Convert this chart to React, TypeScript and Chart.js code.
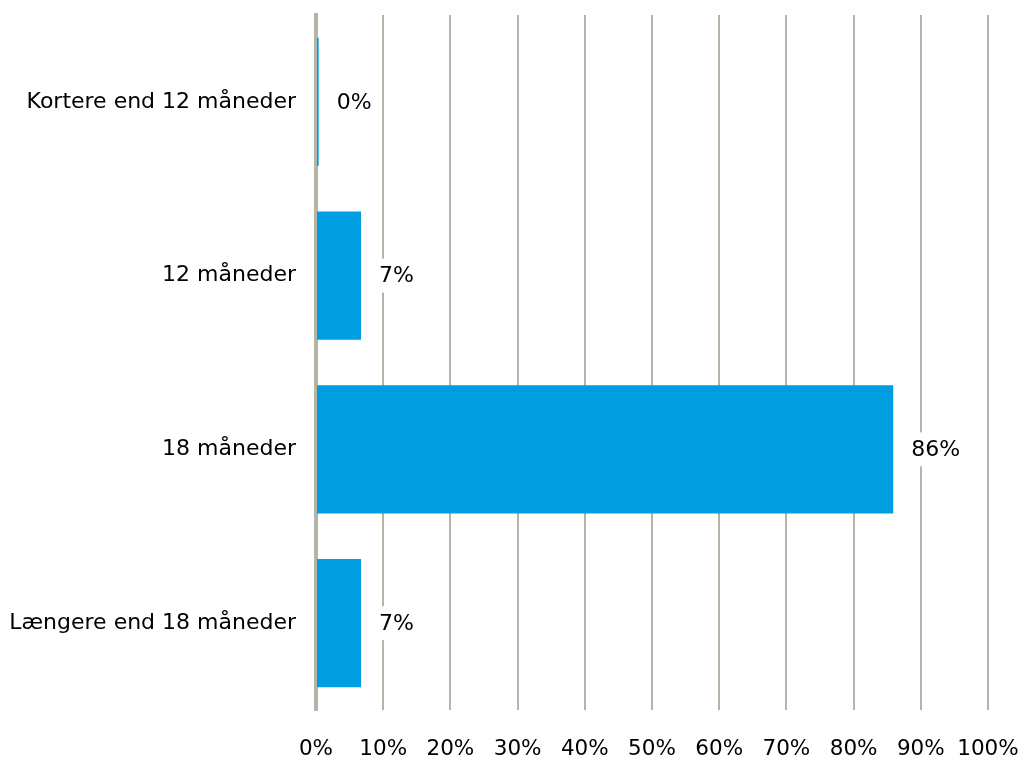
import React, { useEffect, useRef } from "react";
import { Chart, registerables } from "chart.js";

Chart.register(...registerables);

const categories = [
  "Kortere end 12 måneder",
  "12 måneder",
  "18 måneder",
  "Længere end 18 måneder",
];
const values = [0.4, 6.7, 85.9, 6.7];
const xTicks = [0, 10, 20, 30, 40, 50, 60, 70, 80, 90, 100];

const FONT = "'DejaVu Sans', Verdana, sans-serif";
const BAR = "#009ee0";
const GRID = "#b5b5a7";

const labelPlugin = {
  id: "valueLabels",
  afterDatasetsDraw(chart: any) {
    const ctx = chart.ctx;
    const meta = chart.getDatasetMeta(0);
    ctx.save();
    ctx.font = `22px ${FONT}`;
    ctx.textBaseline = "middle";
    ctx.textAlign = "left";
    meta.data.forEach((bar: any, i: number) => {
      const txt = `${Math.round(values[i])}%`;
      const x = Math.max(bar.x, 317) + 18;
      const y = bar.y;
      const w = ctx.measureText(txt).width;
      ctx.fillStyle = "#ffffff";
      ctx.fillRect(x - 5, y - 17, w + 10, 34);
      ctx.fillStyle = "#000000";
      ctx.fillText(txt, x, y + 1);
    });
    ctx.restore();
  },
};

export default function App() {
  const ref = useRef<HTMLCanvasElement>(null);
  useEffect(() => {
    document.body.style.margin = "0";
    const chart = new Chart(ref.current!, {
      type: "bar",
      data: {
        labels: categories,
        datasets: [
          {
            data: values,
            backgroundColor: BAR,
            borderWidth: 0,
            barPercentage: 0.737,
            categoryPercentage: 1,
          },
        ],
      },
      options: {
        indexAxis: "y",
        animation: false,
        responsive: false,
        maintainAspectRatio: false,
        layout: { padding: { top: 15, right: 36, left: 0, bottom: 0 } },
        plugins: { legend: { display: false }, tooltip: { enabled: false } },
        scales: {
          x: {
            min: 0,
            max: 100,
            afterBuildTicks: (scale: any) => {
              scale.ticks = xTicks.map((v) => ({ value: v }));
            },
            afterFit: (scale: any) => {
              scale.height = 48;
              scale.paddingLeft = 0;
              scale.paddingRight = 0;
            },
            grid: { color: GRID, lineWidth: 2, drawTicks: false },
            border: { display: false },
            ticks: {
              padding: 27,
              color: "#000000",
              font: { family: FONT, size: 21.5 },
              callback: (v: any) => `${v}%`,
              maxRotation: 0,
              autoSkip: false,
            },
          },
          y: {
            z: 1,
            afterFit: (scale: any) => {
              scale.width = 316;
              scale.paddingTop = 0;
              scale.paddingBottom = 0;
            },
            grid: { display: false, drawTicks: false },
            border: { display: true, color: GRID, width: 4 },
            ticks: {
              padding: 20,
              color: "#000000",
              font: { family: FONT, size: 22 },
            },
          },
        },
      },
      plugins: [labelPlugin],
    });
    return () => chart.destroy();
  }, []);
  return <canvas ref={ref} width={1024} height={758} style={{ display: "block" }} />;
}
